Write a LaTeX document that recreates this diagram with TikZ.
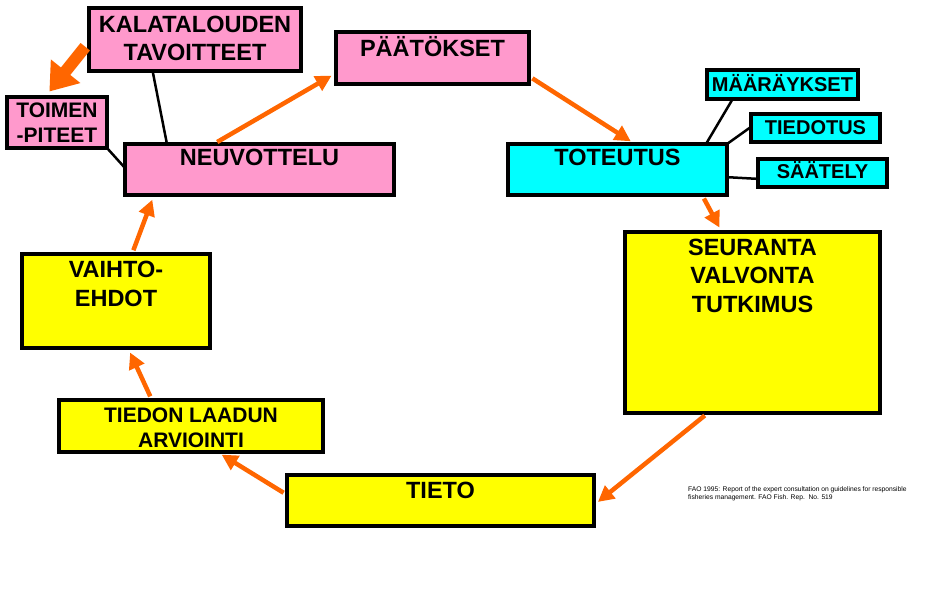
\documentclass[tikz,border=0pt]{standalone}
\usepackage{fontspec}
\setmainfont{Liberation Sans}
\usetikzlibrary{arrows.meta,calc}
\definecolor{kpink}{HTML}{FF99CC}
\definecolor{kcyan}{HTML}{00FFFF}
\definecolor{kyellow}{HTML}{FFFF00}
\definecolor{korange}{HTML}{FF6600}
\newcommand{\stack}[1]{\begin{tabular}[t]{@{}c@{}}#1\end{tabular}}
\tikzstyle{panel}=[draw=black,line width=3.5pt,anchor=north west,inner sep=0pt,outer sep=0pt,font=\bfseries\fontsize{23.5}{28}\selectfont]
\tikzstyle{pinkbox}=[panel,fill=kpink]
\tikzstyle{cyanbox}=[panel,fill=kcyan,font=\bfseries\fontsize{20}{24}\selectfont]
\tikzstyle{yellowbox}=[panel,fill=kyellow]
\tikzstyle{flow}=[draw=korange,line width=4.5pt,-{Triangle[length=16pt,width=16pt]},shorten <=4pt,shorten >=5pt]
\tikzstyle{link}=[draw=black,line width=2.5pt]

\begin{document}
\begin{tikzpicture}[x=1pt,y=-1pt]
\useasboundingbox (0,0) rectangle (930,600);
\node[pinkbox,minimum width=212pt,text height=24pt,text depth=39pt] at (89,8) (kala) {\stack{KALATALOUDEN\\TAVOITTEET}};
\node[pinkbox,minimum width=100pt,text height=20pt,text depth=31pt,font=\bfseries\fontsize{21}{25}\selectfont] at (7,97) (toim) {\stack{TOIMEN\\-PITEET}};
\node[pinkbox,minimum width=193pt,text height=24pt,text depth=28pt] at (336,32) (paat) {PÄÄTÖKSET};
\node[pinkbox,minimum width=269pt,text height=21pt,text depth=30pt] at (125,144) (neuv) {NEUVOTTELU};
\node[cyanbox,minimum width=219pt,text height=21pt,text depth=30pt,font=\bfseries\fontsize{23.5}{28}\selectfont] at (508,144) (tote) {TOTEUTUS};
\node[cyanbox,minimum width=151pt,text height=21pt,text depth=8pt] at (707,70) (maar) {MÄÄRÄYKSET};
\node[cyanbox,minimum width=129pt,text height=20pt,text depth=8pt] at (751,114) (tied) {TIEDOTUS};
\node[cyanbox,minimum width=129pt,text height=19pt,text depth=9pt] at (758,159) (saat) {SÄÄTELY};
\node[yellowbox,minimum width=255pt,text height=23pt,text depth=158pt,font=\bfseries\fontsize{23.5}{28.5}\selectfont] at (625,232) (seur) {\stack{SEURANTA\\VALVONTA\\TUTKIMUS}};
\node[yellowbox,minimum width=188pt,text height=23pt,text depth=71pt,font=\bfseries\fontsize{23.5}{29}\selectfont] at (22,254) (vaih) {\stack{VAIHTO-\\EHDOT}};
\node[yellowbox,minimum width=264pt,text height=22pt,text depth=30pt,font=\bfseries\fontsize{21}{25}\selectfont] at (59,400) (tiedon) {\stack{TIEDON LAADUN\\ARVIOINTI}};
\node[yellowbox,minimum width=307pt,text height=23pt,text depth=28pt] at (287,475) (tieto) {TIETO};
\node[anchor=north west,inner sep=0pt,align=left,font=\fontsize{6.7}{8.5}\selectfont] at (688,486) (cite) {FAO 1995: Report of the expert consultation on guidelines for responsible\\fisheries management. FAO Fish. Rep.\ \ No. 519};

% black links
\draw[link] ($(kala.south west)!.30!(kala.south east)$) -- ($(neuv.north west)!.156!(neuv.north east)$);
\draw[link] (toim.south east) -- ($(neuv.north west)!.47!(neuv.south west)$);
\draw[link] ($(maar.south west)!.17!(maar.south east)$) -- ($(tote.north west)!.904!(tote.north east)$);
\draw[link] ($(tied.north west)!.46!(tied.south west)$) -- (tote.north east);
\draw[link] ($(saat.north west)!.71!(saat.south west)$) -- ($(tote.north east)!.65!(tote.south east)$);

% orange cycle
\draw[flow] ($(neuv.north west)!.33!(neuv.north east)$) -- ($(paat.north west)!.79!(paat.south west)$);
\draw[flow] ($(paat.north east)!.85!(paat.south east)$) -- ($(tote.north west)!.58!(tote.north east)$);
\draw[flow] ($(tote.south west)!.886!(tote.south east)$) -- ($(seur.north west)!.38!(seur.north east)$);
\draw[flow] ($(seur.south west)!.325!(seur.south east)$) -- ($(tieto.north east)!.59!(tieto.south east)$);
\draw[flow] ($(tieto.north west)!.39!(tieto.south west)$) -- ($(tiedon.south west)!.6!(tiedon.south east)$);
\draw[flow] ($(tiedon.north west)!.352!(tiedon.north east)$) -- ($(vaih.south west)!.564!(vaih.south east)$);
\draw[flow] ($(vaih.north west)!.585!(vaih.north east)$) -- ($(neuv.south west)!.108!(neuv.south east)$);
\draw[flow,line width=12pt,-{Triangle[length=26pt,width=36pt]},shorten <=6pt,shorten >=7pt] ($(kala.north west)!.54!(kala.south west)$) -- ($(toim.north west)!.38!(toim.north east)$);
\end{tikzpicture}
\end{document}
